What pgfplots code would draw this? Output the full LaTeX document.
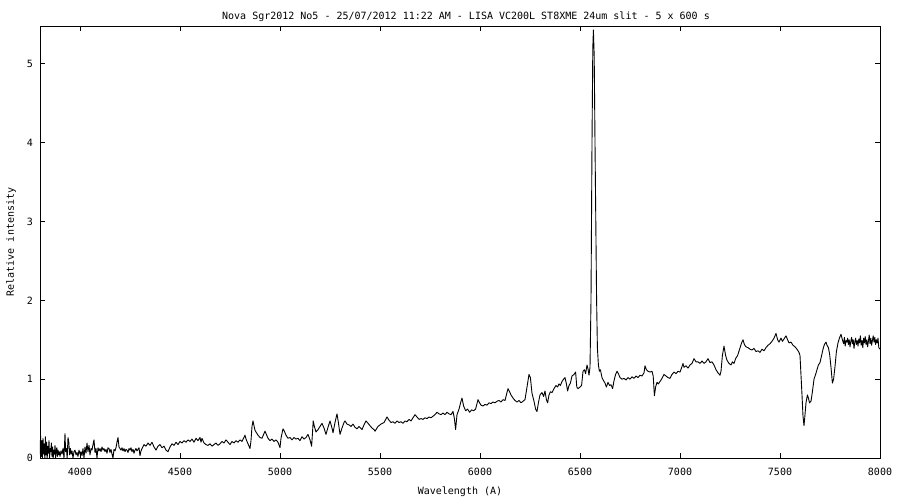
\documentclass[border=0pt]{standalone}
\usepackage{fontspec}
\setmainfont{DejaVu Sans Mono}
\usepackage{pgfplots}
\pgfplotsset{compat=1.18}
\usepackage{pgfplotstable}

% spectrum: wavelength (A), relative intensity
\pgfplotstableread{
lam I
3800 0.05
3803 0.28
3806 0.02
3809 0.22
3812 0.00
3815 0.25
3818 0.05
3821 0.18
3824 0.00
3827 0.27
3830 0.04
3833 0.20
3836 0.00
3839 0.15
3842 0.06
3845 0.22
3848 0.00
3851 0.12
3854 0.08
3857 0.19
3860 0.02
3863 0.14
3866 0.00
3869 0.10
3872 0.05
3875 0.16
3878 0.00
3881 0.09
3884 0.13
3887 0.02
3890 0.10
3893 0.04
3896 0.08
3900 0.02
3905 0.09
3910 0.05
3915 0.12
3920 0.00
3925 0.31
3928 0.08
3932 0.12
3936 0.00
3940 0.26
3944 0.20
3948 0.04
3952 0.12
3956 0.05
3960 0.09
3965 0.00
3970 0.08
3975 0.10
3980 0.04
3985 0.07
3990 0.02
3995 0.10
4000 0.05
4005 0.08
4010 0.03
4015 0.12
4020 0.00
4025 0.14
4030 0.06
4035 0.19
4040 0.08
4045 0.16
4050 0.04
4055 0.12
4060 0.10
4065 0.17
4070 0.23
4075 0.07
4080 0.12
4085 0.00
4090 0.13
4095 0.09
4100 0.12
4105 0.08
4110 0.14
4115 0.10
4120 0.12
4125 0.08
4130 0.11
4135 0.06
4140 0.13
4145 0.12
4150 0.07
4155 0.11
4160 0.05
4165 0.00
4170 0.11
4175 0.09
4180 0.13
4185 0.20
4190 0.26
4195 0.14
4200 0.12
4205 0.10
4210 0.13
4215 0.09
4220 0.12
4225 0.08
4230 0.11
4235 0.10
4240 0.07
4245 0.12
4250 0.10
4255 0.13
4260 0.08
4265 0.11
4270 0.06
4275 0.10
4280 0.12
4285 0.09
4290 0.11
4295 0.13
4300 0.03
4305 0.09
4310 0.12
4320 0.17
4330 0.15
4340 0.19
4350 0.16
4360 0.20
4370 0.14
4380 0.10
4390 0.15
4400 0.17
4410 0.13
4420 0.15
4430 0.10
4440 0.08
4450 0.14
4460 0.18
4470 0.16
4480 0.20
4490 0.17
4500 0.21
4510 0.19
4520 0.22
4530 0.20
4540 0.23
4550 0.21
4560 0.24
4570 0.20
4580 0.25
4590 0.22
4600 0.26
4605 0.20
4610 0.25
4620 0.19
4630 0.17
4640 0.16
4650 0.18
4660 0.15
4670 0.17
4680 0.19
4690 0.16
4700 0.18
4710 0.21
4720 0.19
4730 0.23
4740 0.20
4750 0.17
4760 0.21
4770 0.19
4780 0.22
4790 0.20
4800 0.23
4810 0.21
4820 0.26
4825 0.29
4830 0.24
4840 0.18
4850 0.12
4855 0.22
4860 0.40
4865 0.47
4870 0.41
4875 0.35
4880 0.33
4890 0.29
4900 0.26
4910 0.25
4915 0.28
4925 0.34
4930 0.31
4940 0.25
4950 0.22
4960 0.24
4970 0.21
4980 0.23
4990 0.20
5000 0.13
5005 0.25
5015 0.37
5020 0.35
5030 0.29
5040 0.25
5050 0.26
5060 0.23
5070 0.26
5080 0.24
5090 0.25
5100 0.22
5110 0.27
5120 0.24
5130 0.26
5140 0.30
5150 0.23
5158 0.15
5162 0.30
5166 0.47
5172 0.40
5180 0.33
5190 0.36
5200 0.40
5210 0.44
5220 0.38
5230 0.30
5240 0.39
5250 0.47
5260 0.38
5265 0.32
5275 0.45
5285 0.56
5292 0.45
5300 0.30
5310 0.38
5320 0.45
5325 0.47
5335 0.43
5345 0.42
5355 0.40
5365 0.43
5375 0.39
5385 0.37
5395 0.40
5410 0.36
5420 0.42
5430 0.47
5440 0.44
5450 0.41
5460 0.38
5470 0.36
5475 0.34
5490 0.40
5505 0.43
5520 0.45
5535 0.52
5545 0.48
5555 0.45
5565 0.46
5575 0.44
5585 0.47
5595 0.45
5605 0.46
5615 0.44
5625 0.47
5635 0.46
5645 0.49
5655 0.47
5665 0.51
5675 0.55
5685 0.52
5695 0.49
5705 0.50
5715 0.49
5725 0.51
5735 0.50
5745 0.52
5755 0.51
5765 0.53
5775 0.55
5785 0.58
5795 0.56
5805 0.55
5815 0.57
5825 0.55
5835 0.58
5845 0.56
5855 0.55
5865 0.59
5872 0.50
5878 0.36
5885 0.55
5895 0.62
5905 0.72
5910 0.76
5918 0.66
5928 0.60
5938 0.62
5948 0.58
5958 0.61
5968 0.60
5978 0.62
5990 0.74
5998 0.70
6005 0.67
6015 0.66
6025 0.68
6035 0.67
6045 0.70
6055 0.69
6065 0.71
6075 0.70
6085 0.72
6095 0.73
6105 0.71
6115 0.74
6125 0.73
6140 0.88
6148 0.84
6155 0.80
6165 0.76
6175 0.73
6185 0.71
6195 0.73
6205 0.70
6215 0.72
6225 0.74
6235 0.90
6245 1.06
6252 1.02
6260 0.82
6270 0.72
6278 0.62
6285 0.59
6292 0.70
6300 0.80
6310 0.83
6318 0.78
6325 0.85
6332 0.74
6338 0.70
6345 0.80
6352 0.84
6360 0.83
6370 0.88
6380 0.92
6388 0.90
6395 0.94
6402 0.92
6410 0.97
6418 1.00
6425 1.02
6432 0.94
6438 0.85
6445 0.92
6452 0.95
6460 1.04
6470 1.06
6478 1.09
6484 0.90
6490 0.88
6500 0.90
6508 0.92
6515 1.10
6522 1.12
6528 1.07
6535 1.18
6540 1.13
6545 1.05
6550 1.15
6555 2.00
6560 4.00
6564 5.20
6567 5.43
6571 5.10
6575 4.00
6579 3.00
6583 2.00
6587 1.40
6592 1.18
6597 1.10
6602 1.12
6610 1.02
6618 0.98
6625 0.95
6632 0.90
6640 0.96
6648 0.92
6655 0.93
6663 0.88
6670 0.98
6678 1.06
6685 1.10
6692 1.07
6700 1.02
6710 1.00
6720 1.01
6730 0.99
6740 1.02
6750 1.00
6760 1.03
6770 1.01
6780 1.04
6790 1.02
6800 1.05
6810 1.04
6820 1.08
6825 1.17
6832 1.12
6840 1.10
6850 1.09
6860 1.10
6866 1.04
6872 0.79
6878 0.90
6885 0.96
6892 0.94
6900 0.97
6910 1.01
6920 1.06
6930 1.04
6940 1.02
6950 1.01
6960 1.06
6970 1.09
6980 1.07
6990 1.10
7000 1.09
7010 1.16
7015 1.20
7020 1.15
7030 1.17
7040 1.14
7050 1.18
7060 1.20
7070 1.26
7080 1.22
7090 1.22
7100 1.20
7110 1.23
7120 1.20
7130 1.22
7140 1.26
7150 1.21
7160 1.22
7170 1.18
7180 1.12
7190 1.08
7200 1.05
7205 1.10
7212 1.30
7220 1.42
7228 1.30
7235 1.24
7245 1.20
7255 1.18
7262 1.22
7270 1.20
7278 1.26
7288 1.30
7298 1.38
7308 1.46
7315 1.50
7322 1.44
7330 1.41
7340 1.40
7350 1.38
7360 1.37
7370 1.39
7380 1.35
7390 1.36
7400 1.34
7410 1.38
7420 1.36
7430 1.40
7440 1.43
7450 1.45
7460 1.48
7470 1.52
7480 1.58
7488 1.50
7495 1.47
7505 1.52
7512 1.48
7520 1.51
7530 1.55
7538 1.50
7545 1.46
7555 1.47
7565 1.43
7575 1.41
7585 1.38
7595 1.34
7600 1.30
7605 1.05
7610 0.80
7615 0.53
7620 0.41
7625 0.55
7630 0.70
7637 0.80
7642 0.76
7648 0.70
7655 0.72
7662 0.84
7670 1.00
7678 1.06
7685 1.12
7692 1.18
7700 1.21
7708 1.30
7715 1.38
7722 1.44
7730 1.47
7735 1.43
7742 1.40
7748 1.32
7755 1.15
7762 0.95
7768 1.00
7775 1.16
7782 1.35
7790 1.46
7797 1.52
7805 1.57
7812 1.50
7818 1.45
7822 1.53
7826 1.42
7830 1.49
7834 1.47
7838 1.52
7842 1.44
7846 1.50
7850 1.41
7854 1.48
7858 1.53
7862 1.45
7866 1.50
7870 1.39
7874 1.47
7878 1.52
7882 1.44
7886 1.49
7890 1.42
7894 1.51
7898 1.46
7902 1.55
7906 1.43
7910 1.49
7914 1.40
7918 1.52
7922 1.46
7926 1.54
7930 1.44
7934 1.50
7938 1.41
7942 1.48
7946 1.56
7950 1.45
7954 1.52
7958 1.43
7962 1.49
7966 1.55
7970 1.47
7974 1.53
7978 1.44
7982 1.50
7986 1.46
7990 1.52
7994 1.40
8000 1.38
}\spectrum

\begin{document}
\begin{tikzpicture}[font=\fontsize{10pt}{12pt}\selectfont]
\begin{axis}[
  scale only axis,
  width=840pt, height=432pt,
  xmin=3800, xmax=8000,
  ymin=0, ymax=5.48,
  xtick={4000,4500,...,8000},
  ytick={0,1,2,3,4,5},
  tick align=inside,
  major tick length=5pt,
  tick style={black, line width=0.8pt},
  axis line style={line width=0.8pt},
  /pgf/number format/assume math mode=true,
  /pgf/number format/1000 sep={},
  xticklabel style={anchor=base, yshift=-18pt, inner sep=0pt},
  yticklabel style={anchor=east, xshift=-7pt, inner sep=0pt},
  title={Nova Sgr2012 No5 - 25/07/2012 11:22 AM - LISA VC200L ST8XME 24um slit - 5 x 600 s},
  title style={at={(axis description cs:0.5,1)}, anchor=base, yshift=0pt, xshift=6pt, inner sep=0pt},
  xlabel={Wavelength (A)},
  xlabel style={at={(axis description cs:0.5,0)}, anchor=base, yshift=-37pt, inner sep=0pt},
  ylabel={Relative intensity},
  ylabel style={at={(axis description cs:0,0.5)}, anchor=center, yshift=29pt, inner sep=0pt},
]
\addplot[black, line width=0.9pt, line join=round] table[x=lam, y=I] {\spectrum};
\end{axis}
\path ([xshift=-40pt,yshift=-42pt]current axis.south west) rectangle ([xshift=20pt,yshift=26pt]current axis.north east);
\end{tikzpicture}
\end{document}
